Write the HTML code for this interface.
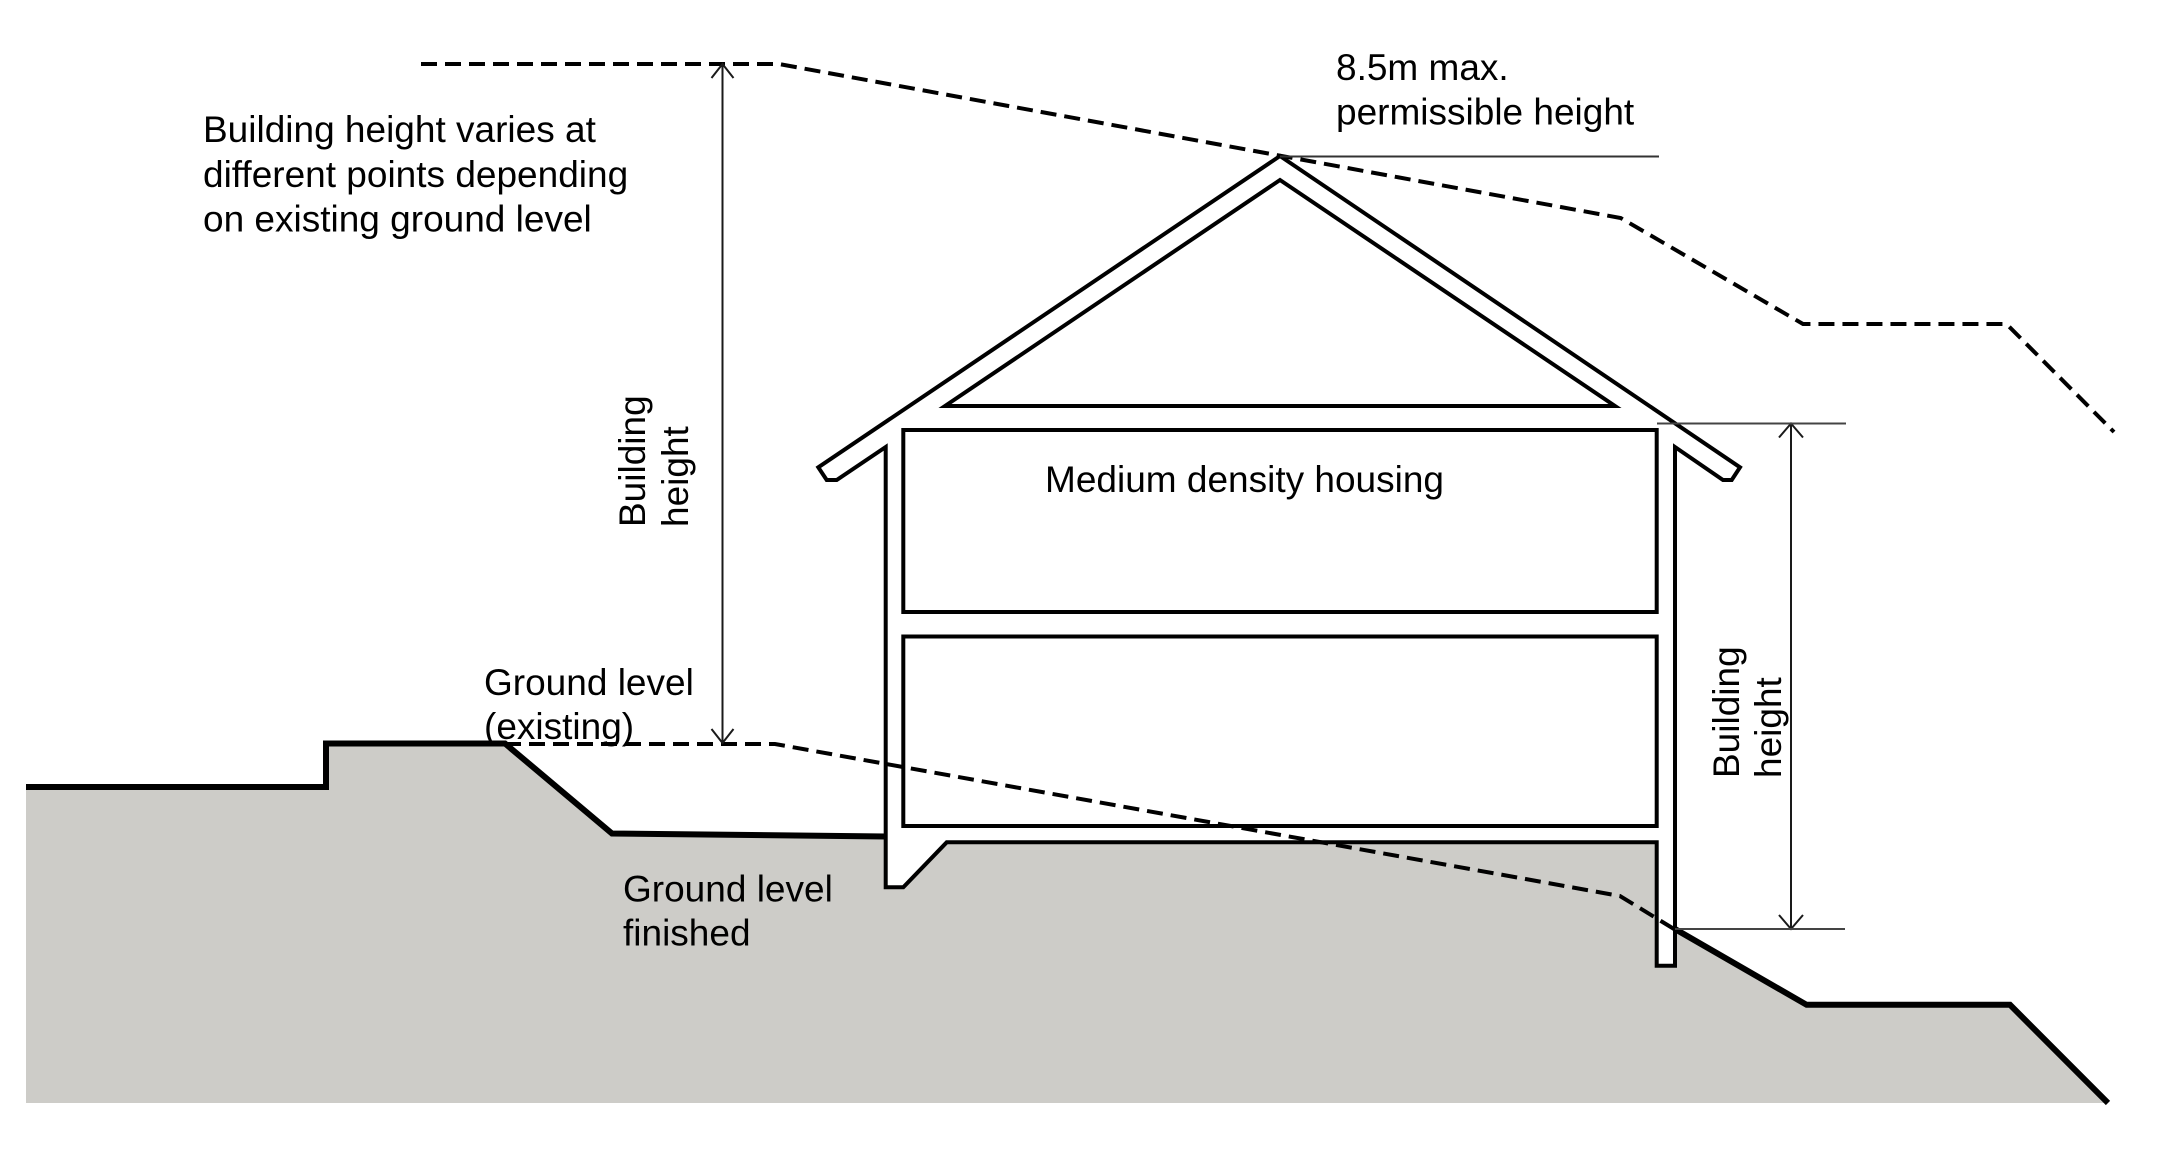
<!DOCTYPE html>
<html>
<head>
<meta charset="utf-8">
<style>
  html, body { margin: 0; padding: 0; background: #ffffff; }
  svg { display: block; }
  text { font-family: "Liberation Sans", Arial, sans-serif; fill: #000; }
</style>
</head>
<body>
<svg width="2177" height="1154" viewBox="0 0 2177 1154" xmlns="http://www.w3.org/2000/svg">
  <rect x="0" y="0" width="2177" height="1154" fill="#ffffff"/>

  <!-- ground fill -->
  <path d="M26,787 L326,787 L326,743.5 L505,743.5 L612,833.5 L886,836.5 L1675,836.5 L1675,929 L1806.6,1004.8 L2010,1004.8 L2108,1103 L26,1103 Z" fill="#cdccc8"/>

  <!-- ground lines (finished) -->
  <path d="M26,787 L326,787 L326,743.5 L505,743.5 L612,833.5 L886,836.5" fill="none" stroke="#000" stroke-width="6" stroke-linejoin="miter"/>
  <path d="M1675,929 L1806.6,1004.8 L2010,1004.8 L2108,1103" fill="none" stroke="#000" stroke-width="6" stroke-linejoin="miter"/>

  <!-- house outline -->
  <path d="M885.7,447 L836.7,480 L826.7,480 L818.3,467.3 L1280,156 L1740,467.3 L1731.7,480 L1723,480 L1675,447 L1675,965.7 L1656.7,965.7 L1656.7,842.3 L946.7,842.3 L903.3,887.3 L885.7,887.3 Z" fill="#ffffff" stroke="#000" stroke-width="4" stroke-linejoin="miter"/>

  <!-- attic triangle -->
  <path d="M945,406 L1280,180 L1615,406 Z" fill="none" stroke="#000" stroke-width="4" stroke-linejoin="miter"/>

  <!-- rooms -->
  <rect x="903.3" y="430" width="753.4" height="182" fill="none" stroke="#000" stroke-width="4"/>
  <rect x="903.3" y="636.5" width="753.4" height="189.5" fill="none" stroke="#000" stroke-width="4"/>

  <!-- dashed lines -->
  <path d="M421,64 L779,64 L1620.7,218 L1803,324 L2006.5,324 L2114,432" fill="none" stroke="#000" stroke-width="4" stroke-dasharray="16 8"/>
  <path d="M505,744 L775,744 L1620,896 L1674,929" fill="none" stroke="#000" stroke-width="4" stroke-dasharray="16 8"/>

  <!-- dimension lines -->
  <g fill="none" stroke="#1a1a1a" stroke-width="2">
    <line x1="722.5" y1="64" x2="722.5" y2="743"/>
    <polyline points="711.5,78 722.5,64 733.5,78"/>
    <polyline points="711.5,729 722.5,743 733.5,729"/>

    <line x1="1791" y1="423.5" x2="1791" y2="929"/>
    <polyline points="1779,437.5 1791,423.5 1803,437.5"/>
    <polyline points="1779,915 1791,929 1803,915"/>

    <line x1="1657" y1="423.5" x2="1846" y2="423.5" stroke="#444"/>
    <line x1="1675" y1="929" x2="1845" y2="929" stroke="#444"/>
    <line x1="1280" y1="156.5" x2="1659" y2="156.5" stroke="#333"/>
  </g>

  <!-- labels -->
  <g font-size="37">
    <text x="203" y="142">Building height varies at</text>
    <text x="203" y="187">different points depending</text>
    <text x="203" y="231.5">on existing ground level</text>

    <text x="1336" y="80">8.5m max.</text>
    <text x="1336" y="124.5">permissible height</text>

    <text x="1045" y="492">Medium density housing</text>

    <text x="484" y="695">Ground level</text>
    <text x="484" y="739">(existing)</text>

    <text x="623" y="901.5">Ground level</text>
    <text x="623" y="945.5">finished</text>

    <text x="645" y="527" transform="rotate(-90 645 527)">Building</text>
    <text x="688" y="527" transform="rotate(-90 688 527)">height</text>

    <text x="1739" y="778" transform="rotate(-90 1739 778)">Building</text>
    <text x="1781" y="778" transform="rotate(-90 1781 778)">height</text>
  </g>
</svg>
</body>
</html>
